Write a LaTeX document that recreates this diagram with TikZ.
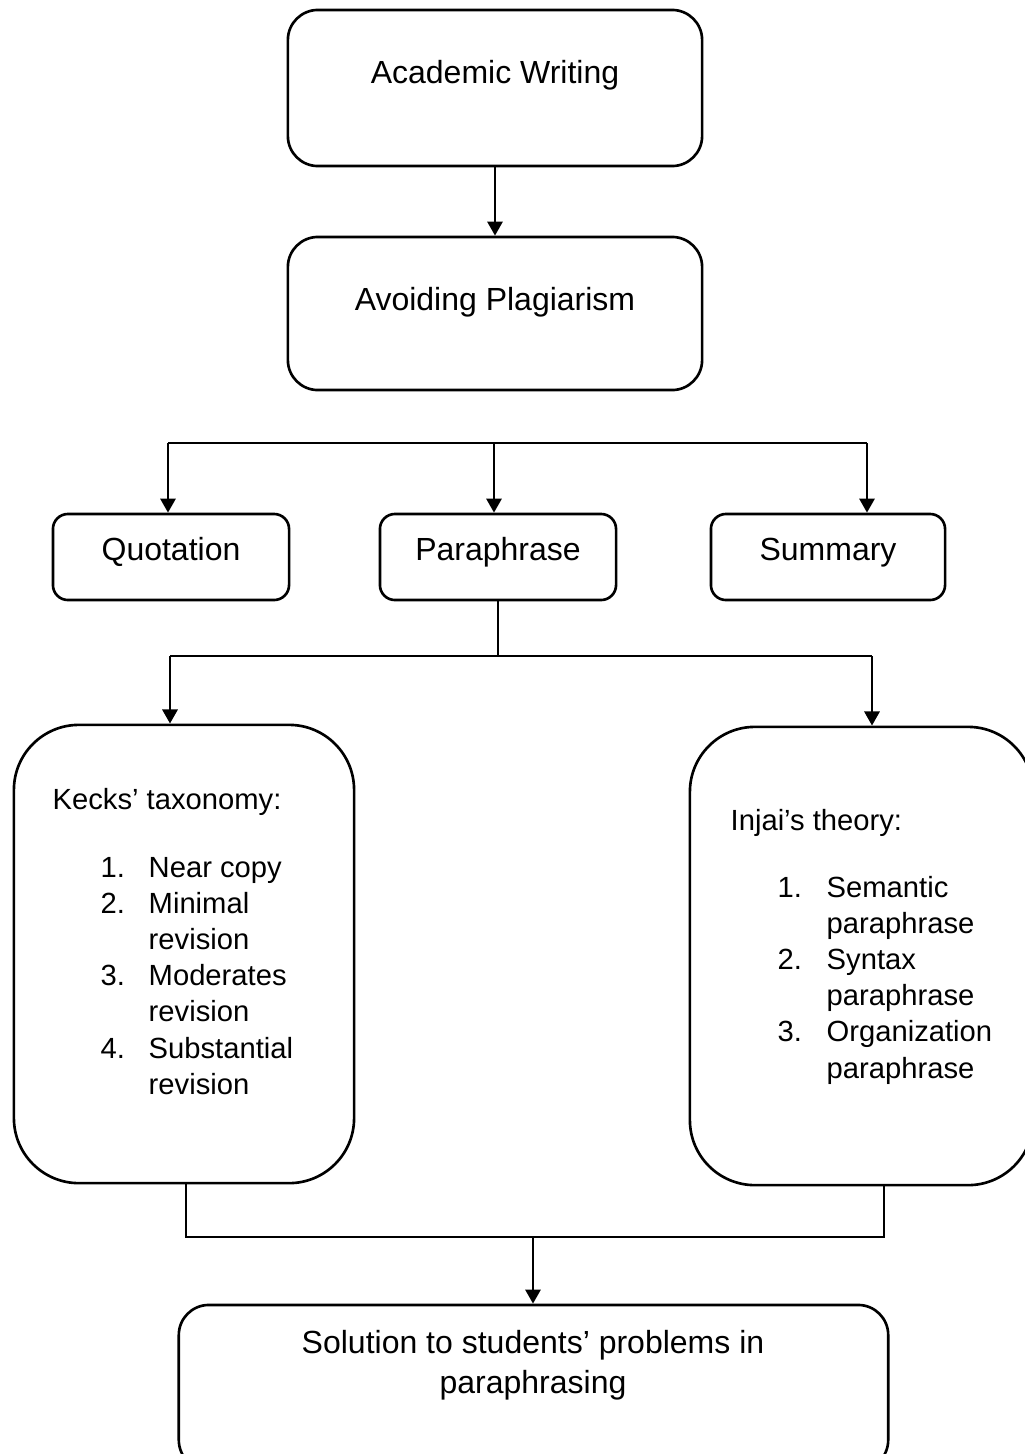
\documentclass[tikz,border=0pt]{standalone}
\usepackage{fontspec}
\setmainfont{Liberation Sans}
\usetikzlibrary{arrows.meta}

\tikzset{
	box/.style={draw, line width=0.75pt, inner sep=0pt, rounded corners=#1},
	box/.default=3mm,
	lbl/.style={inner sep=0pt, anchor=base, font=\fontsize{9.1}{11.4}\selectfont},
	lst/.style={inner sep=0pt, anchor=base west, font=\fontsize{8.3}{10.3}\selectfont},
	link/.style={line width=0.75pt},
	arr/.style={link, -{Triangle[length=4pt,width=4.3pt]}},
}

\begin{document}
\begin{tikzpicture}[x=0.01cm, y=-0.01cm]
		\useasboundingbox (0,0) rectangle (1025,1454);
		
		% Top boxes
		\node[box, minimum width=4.14cm, minimum height=1.56cm] (acad) at (495,88) {};
		\node[box, minimum width=4.14cm, minimum height=1.53cm] (avoid) at (495,313.5) {};
		\node[lbl] (acadtxt) at (495,83) {Academic Writing};
		\node[lbl] (avoidtxt) at (495,310) {Avoiding Plagiarism};
		
		% Three kinds
		\node[box=1.5mm, minimum width=2.36cm, minimum height=0.86cm] (quote) at (171,557) {};
		\node[box=1.5mm, minimum width=2.36cm, minimum height=0.86cm] (para) at (498,557) {};
		\node[box=1.5mm, minimum width=2.34cm, minimum height=0.86cm] (summ) at (828,557) {};
		\node[lbl] (quotetxt) at (171,560) {Quotation};
		\node[lbl] (paratxt) at (498,560) {Paraphrase};
		\node[lbl] (summtxt) at (828,560) {Summary};
		
		% Taxonomy boxes
		\node[box=6.5mm, minimum width=3.40cm, minimum height=4.58cm] (keck) at (184,954) {};
		\node[box=6.5mm, minimum width=3.43cm, minimum height=4.58cm] (injai) at (861.5,956) {};
		\node[lst] (kecktitle) at (52,809) {Kecks’ taxonomy:};
		\node[lst] (kecklist) at (100,877) {\begin{tabular}[t]{@{}p{0.48cm}@{}l@{}}
				1. & Near copy\\
				2. & Minimal\\
				   & revision\\
				3. & Moderates\\
				   & revision\\
				4. & Substantial\\
				   & revision
			\end{tabular}};
		\node[lst] (injaititle) at (730,830) {Injai’s theory:};
		\node[lst] (injailist) at (777,897) {\begin{tabular}[t]{@{}p{0.49cm}@{}l@{}}
				1. & Semantic\\
				   & paraphrase\\
				2. & Syntax\\
				   & paraphrase\\
				3. & Organization\\
				   & paraphrase
			\end{tabular}};
		
		% Bottom box
		\node[box, minimum width=7.09cm, minimum height=1.65cm] (sol) at (533.5,1387.5) {};
		\node[lbl] (soltxt) at (533,1353) {\begin{tabular}[t]{@{}c@{}}
				Solution to students’ problems in\\
				paraphrasing
			\end{tabular}};
		
		% Connectors
		\draw[arr] (acad) -- (avoid);
		
		\coordinate (brL) at (168,443);
		\coordinate (brM) at (494,443);
		\coordinate (brR) at (867,443);
		\draw[link] (brL) -- (brR);
		\draw[arr] (brL) -- (brL |- quote.north);
		\draw[arr] (brM) -- (brM |- para.north);
		\draw[arr] (brR) -- (brR |- summ.north);
		
		\coordinate (spL) at (170,656);
		\coordinate (spR) at (872,656);
		\draw[link] (para.south) -- (para.south |- spL);
		\draw[link] (spL) -- (spR);
		\draw[arr] (spL) -- (spL |- keck.north);
		\draw[arr] (spR) -- (spR |- injai.north);
		
		\coordinate (jnL) at (186,1237);
		\coordinate (jnM) at (533,1237);
		\coordinate (jnR) at (884,1237);
		\draw[link] (jnL |- keck.south) -- (jnL) -- (jnR) -- (jnR |- injai.south);
		\draw[arr] (jnM) -- (jnM |- sol.north);
	\end{tikzpicture}
\end{document}
